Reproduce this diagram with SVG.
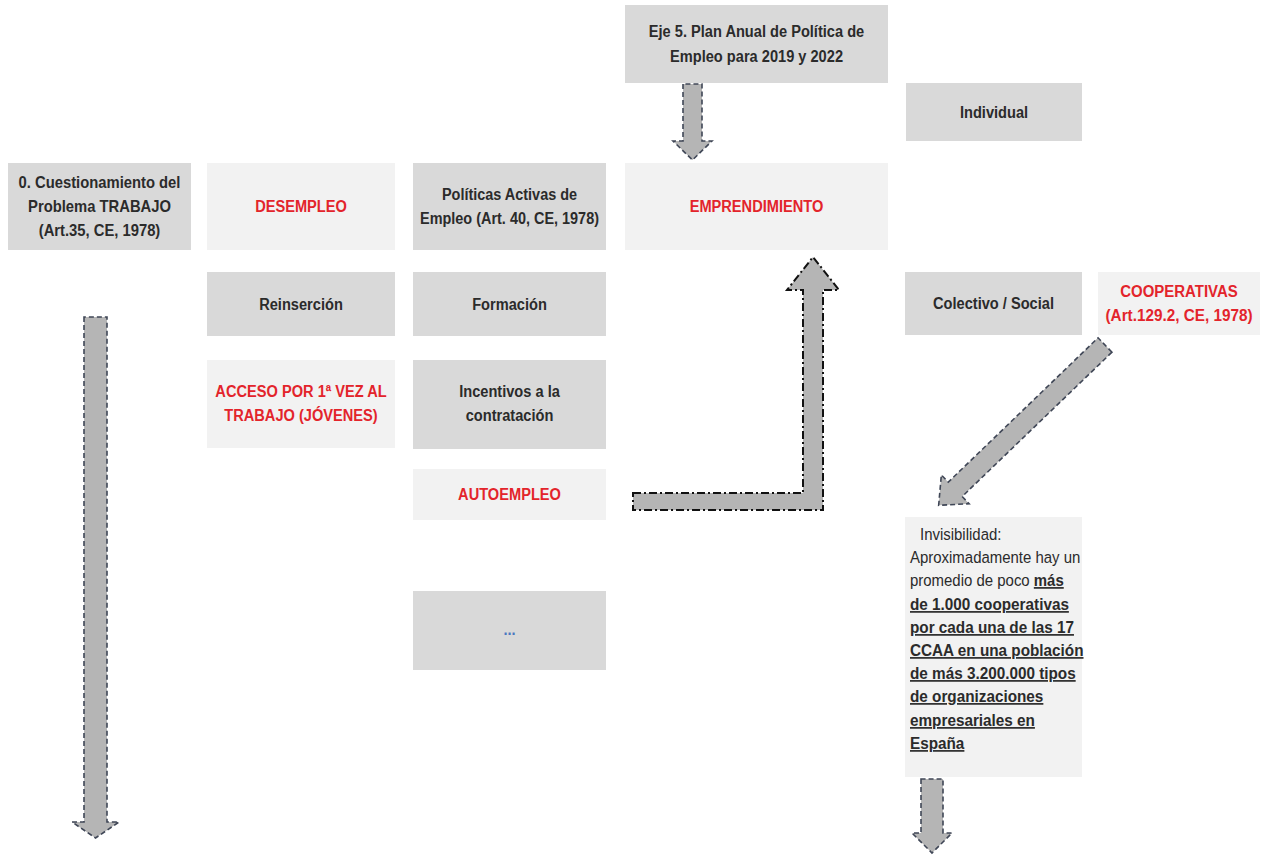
<svg xmlns="http://www.w3.org/2000/svg" width="1263" height="856" viewBox="0 0 1263 856">
<style>
.dk{fill:#d9d9d9}
.lt{fill:#f2f2f2}
.t{font-family:"Liberation Sans",Arial,sans-serif;font-weight:bold;font-size:17px;fill:#2b2b2b;text-anchor:middle}
.r{fill:#e3242b}
.b{fill:#4a78c0}
.p{font-family:"Liberation Sans",Arial,sans-serif;font-size:17px;fill:#2b2b2b}
.u{font-weight:bold;text-decoration:underline}
.arr{fill:#b5b5b5;stroke:#3f4656;stroke-width:1.6;stroke-dasharray:5 3}
.arrL{fill:#b5b5b5;stroke:#111;stroke-width:2;stroke-dasharray:8 3 2 3}
</style>
<rect width="1263" height="856" fill="#ffffff"/>
<g id="connectors">
<path class="arr" d="M84,317 V822 H72 L95.5,838 L119,822 H107 V317 Z"/>
<path class="arr" d="M683,84 V141 H673 L692.5,160 L712,141 H702 V84 Z"/>
<path class="arrL" d="M633,493 H803 V290 H787 L813,257 L839,290 H823 V510 H633 Z"/>
<path class="arr" transform="translate(1105,345) rotate(136.06)" d="M0,-10 H208 V-20 L231,0 L208,20 V10 H0 Z"/>
<path class="arr" d="M921,779 V833 H912 L932,853 L952,833 H943 V779 Z"/>
</g>
<g id="n0"><rect class="dk" x="8" y="163" width="183" height="87"/>
<text class="t" transform="matrix(0.87 0 0 1 99.5 0)" x="0" y="188">0. Cuestionamiento del</text>
<text class="t" transform="matrix(0.87 0 0 1 99.5 0)" x="0" y="212">Problema TRABAJO</text>
<text class="t" transform="matrix(0.87 0 0 1 99.5 0)" x="0" y="236">(Art.35, CE, 1978)</text></g>
<g id="desempleo"><rect class="lt" x="207" y="163" width="188" height="87"/>
<text class="t r" transform="matrix(0.86 0 0 1 301 0)" x="0" y="212">DESEMPLEO</text></g>
<g id="politicas"><rect class="dk" x="413" y="163" width="193" height="87"/>
<text class="t" transform="matrix(0.85 0 0 1 509.5 0)" x="0" y="200">Políticas Activas de</text>
<text class="t" transform="matrix(0.85 0 0 1 509.5 0)" x="0" y="224">Empleo (Art. 40, CE, 1978)</text></g>
<g id="eje5"><rect class="dk" x="625" y="5" width="263" height="78"/>
<text class="t" transform="matrix(0.86 0 0 1 756.5 0)" x="0" y="37">Eje 5. Plan Anual de Política de</text>
<text class="t" transform="matrix(0.86 0 0 1 756.5 0)" x="0" y="62">Empleo para 2019 y 2022</text></g>
<g id="emprendimiento"><rect class="lt" x="625" y="163" width="263" height="87"/>
<text class="t r" transform="matrix(0.86 0 0 1 756.5 0)" x="0" y="212">EMPRENDIMIENTO</text></g>
<g id="individual"><rect class="dk" x="906" y="83" width="176" height="58"/>
<text class="t" transform="matrix(0.86 0 0 1 994 0)" x="0" y="118">Individual</text></g>
<g id="reinsercion"><rect class="dk" x="207" y="272" width="188" height="64"/>
<text class="t" transform="matrix(0.86 0 0 1 301 0)" x="0" y="310">Reinserción</text></g>
<g id="formacion"><rect class="dk" x="413" y="272" width="193" height="64"/>
<text class="t" transform="matrix(0.86 0 0 1 509.5 0)" x="0" y="310">Formación</text></g>
<g id="colectivo"><rect class="dk" x="905" y="272" width="177" height="63"/>
<text class="t" transform="matrix(0.86 0 0 1 993.5 0)" x="0" y="309">Colectivo / Social</text></g>
<g id="cooperativas"><rect class="lt" x="1098" y="272" width="162" height="63"/>
<text class="t r" transform="matrix(0.88 0 0 1 1179 0)" x="0" y="297">COOPERATIVAS</text>
<text class="t r" transform="matrix(0.9 0 0 1 1179 0)" x="0" y="321">(Art.129.2, CE, 1978)</text></g>
<g id="acceso"><rect class="lt" x="207" y="360" width="188" height="88"/>
<text class="t r" transform="matrix(0.86 0 0 1 301 0)" x="0" y="397">ACCESO POR 1ª VEZ AL</text>
<text class="t r" transform="matrix(0.86 0 0 1 301 0)" x="0" y="421">TRABAJO (JÓVENES)</text></g>
<g id="incentivos"><rect class="dk" x="413" y="360" width="193" height="89"/>
<text class="t" transform="matrix(0.86 0 0 1 509.5 0)" x="0" y="397">Incentivos a la</text>
<text class="t" transform="matrix(0.86 0 0 1 509.5 0)" x="0" y="421">contratación</text></g>
<g id="autoempleo"><rect class="lt" x="413" y="469" width="193" height="51"/>
<text class="t r" transform="matrix(0.86 0 0 1 509.5 0)" x="0" y="500">AUTOEMPLEO</text></g>
<g id="etc"><rect class="dk" x="413" y="591" width="193" height="79"/>
<text class="t b" transform="matrix(0.86 0 0 1 509.5 0)" x="0" y="635">...</text></g>
<g id="invisibilidad"><rect class="lt" x="905" y="517" width="177" height="260"/>
<text class="p" transform="matrix(0.88 0 0 1 920 0)" x="0" y="540">Invisibilidad:</text>
<text class="p" transform="matrix(0.88 0 0 1 910 0)" x="0" y="563">Aproximadamente hay un</text>
<text class="p" transform="matrix(0.88 0 0 1 910 0)" x="0" y="586">promedio de poco <tspan class="u">más </tspan></text>
<text class="p u" transform="matrix(0.9 0 0 1 910 0)" x="0" y="610">de 1.000 cooperativas</text>
<text class="p u" transform="matrix(0.9 0 0 1 910 0)" x="0" y="633">por cada una de las 17 </text>
<text class="p u" transform="matrix(0.9 0 0 1 910 0)" x="0" y="656">CCAA en una población</text>
<text class="p u" transform="matrix(0.9 0 0 1 910 0)" x="0" y="679">de más 3.200.000 tipos </text>
<text class="p u" transform="matrix(0.9 0 0 1 910 0)" x="0" y="702">de organizaciones </text>
<text class="p u" transform="matrix(0.9 0 0 1 910 0)" x="0" y="726">empresariales en</text>
<text class="p u" transform="matrix(0.9 0 0 1 910 0)" x="0" y="749">España</text></g>
</svg>
